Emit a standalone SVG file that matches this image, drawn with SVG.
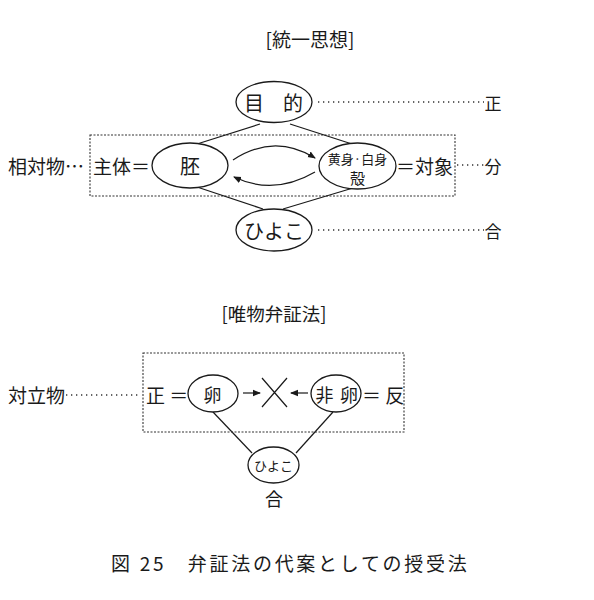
<svg xmlns="http://www.w3.org/2000/svg" width="594" height="600" viewBox="0 0 594 600">
<style>
text{font-family:"Noto Sans CJK JP","Noto Sans",sans-serif;fill:#1a1a1a;dominant-baseline:central}
.m{text-anchor:middle}
.n{fill:#fff;stroke:#1a1a1a;stroke-width:1.3}
.c{stroke:#1a1a1a;stroke-width:1.2;fill:none}
.dot{stroke:#333;stroke-width:1.4;stroke-dasharray:1.3 3.7;fill:none}
.box{stroke:#333;stroke-width:1.1;stroke-dasharray:2 1.5;fill:none}
</style>
<defs>
<marker id="ah" markerWidth="8" markerHeight="8" refX="7" refY="4" orient="auto" markerUnits="userSpaceOnUse"><path d="M0,0.8 L8,4 L0,7.2 Z" fill="#1a1a1a"/></marker>
</defs>
<rect width="594" height="600" fill="#fff"/>
<text class="m" x="310" y="38" font-size="19">[統一思想]</text>
<rect class="box" x="90" y="135" width="365" height="61"/>
<g id="connectors">
<path class="c" d="M260,124 L197,144"/>
<path class="c" d="M290,124 L352,144"/>
<path class="c" d="M197,187 L263,209"/>
<path class="c" d="M353,188 L283,209"/>
<path class="c" d="M233,160 Q274,133 315,158" marker-end="url(#ah)"/>
<path class="c" d="M315,172 Q274,196 234,177" marker-end="url(#ah)"/>
<path class="dot" d="M318,102 H484"/>
<path class="dot" d="M457,165 H484"/>
<path class="dot" d="M318,230 H484"/>
<path class="c" d="M213,412 L252,453"/>
<path class="c" d="M333,412 L296,453"/>
<path class="c" d="M243,393 H260" marker-end="url(#ah)"/>
<path class="c" d="M308,393 H291" marker-end="url(#ah)"/>
<path class="c" d="M262,378 L287,407 M287,378 L262,407"/>
<path class="dot" d="M66,395 H141"/>
</g>
<g id="mokuteki"><ellipse class="n" cx="274" cy="102" rx="38" ry="20.5"/><text class="m" x="254" y="102" font-size="20">目</text><text class="m" x="293" y="102" font-size="20">的</text></g>
<text class="m" x="493" y="102" font-size="17">正</text>
<g id="hai"><ellipse class="n" cx="190" cy="165.5" rx="38" ry="22.5"/><text class="m" x="190" y="165" font-size="20">胚</text></g>
<g id="kimi"><ellipse class="n" cx="357.5" cy="166" rx="38.5" ry="23"/><text class="m" x="357.5" y="158" font-size="13">黄身·白身</text><text class="m" x="357.5" y="177" font-size="15">殻</text></g>
<text x="8" y="165" font-size="19">相対物…</text>
<text x="93" y="165" font-size="19">主体＝</text>
<text x="396" y="165" font-size="19">＝対象</text>
<text class="m" x="493" y="165" font-size="17">分</text>
<g id="hiyoko"><ellipse class="n" cx="274" cy="230" rx="38" ry="21"/><text class="m" x="274" y="230" font-size="20">ひよこ</text></g>
<text class="m" x="493" y="230" font-size="17">合</text>
<text class="m" x="274" y="313" font-size="18.5">[唯物弁証法]</text>
<rect class="box" x="143" y="353" width="261" height="79"/>
<text x="8" y="394" font-size="19">対立物</text>
<text x="146" y="394" font-size="19">正 ＝</text>
<g id="ran"><ellipse class="n" cx="213" cy="393.5" rx="25" ry="18.5"/><text class="m" x="212.5" y="393.5" font-size="18">卵</text></g>
<g id="hiran"><ellipse class="n" cx="336" cy="393.5" rx="25" ry="18.5"/><text class="m" x="324.5" y="393.5" font-size="18">非</text><text class="m" x="349" y="393.5" font-size="18">卵</text></g>
<text x="362" y="394" font-size="19">＝ 反</text>
<g id="hiyoko2"><ellipse class="n" cx="273.5" cy="465" rx="25.5" ry="18"/><text class="m" x="273.5" y="465" font-size="13">ひよこ</text></g>
<text class="m" x="274" y="498" font-size="18">合</text>
<text x="111" y="562" font-size="19" letter-spacing="2.7">図 25　弁証法の代案としての授受法</text>
</svg>
